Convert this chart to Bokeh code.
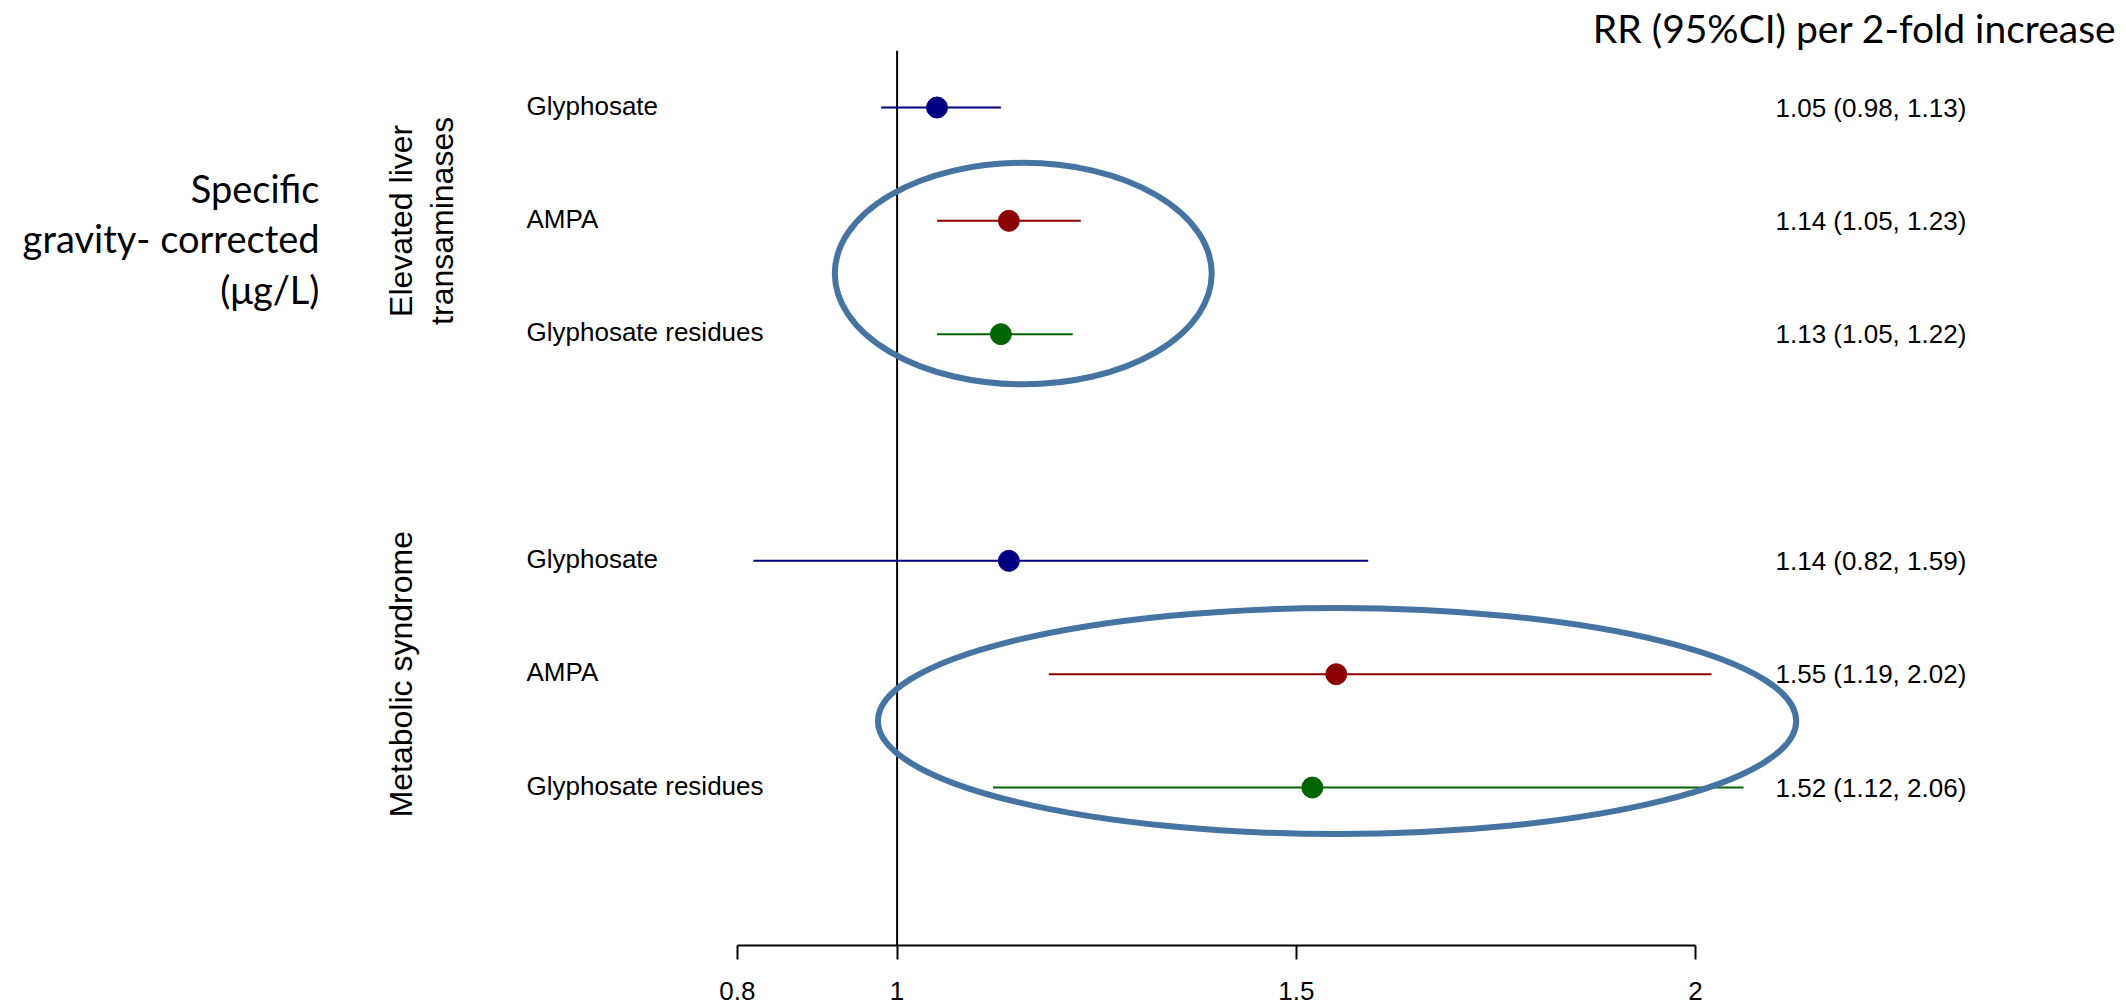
import math
from bokeh.plotting import figure
from bokeh.models import Range1d, FixedTicker
from bokeh.core.properties import value
from bokeh.embed import file_html
from bokeh.resources import INLINE

# ---------------- data ----------------
outcomes = ["Elevated liver transaminases", "Metabolic syndrome"]
outcome_lines = [["Elevated liver", "transaminases"], ["Metabolic syndrome"]]
exposures = ["Glyphosate", "AMPA", "Glyphosate residues"]
exposure_colors = ["#000080", "#8B0000", "#006400"]

rr_liver = [1.05, 1.14, 1.13]
lo_liver = [0.98, 1.05, 1.05]
hi_liver = [1.13, 1.23, 1.22]

rr_mets = [1.14, 1.55, 1.52]
lo_mets = [0.82, 1.19, 1.12]
hi_mets = [1.59, 2.02, 2.06]

tick_values = [0.8, 1, 1.5, 2]
tick_labels = ["0.8", "1", "1.5", "2"]

title_text = "RR (95%CI) per 2-fold increase"
side_title_lines = ["Specific", "gravity- corrected", "(μg/L)"]
null_value = 1

# highlighted results (ellipse annotations, in RR / row units)
highlight_x = [1.158, 1.551]
highlight_w = [0.472, 1.150]
highlight_y = [5.535, 1.587]
highlight_h = [1.954, 1.994]

# ---------------- layout constants ----------------
W, H = 2126, 1005
KX = 798.5           # px per RR unit
X1_PX = 896.6        # px of RR = 1
KY = 113.34          # px per row
TOP_ROW_PX = 107     # px of top row (y = 7)
BOTTOM_BORDER = 60
FRAME_BOTTOM = H - BOTTOM_BORDER

x_start = 1 - X1_PX / KX
x_end = x_start + W / KX
y_top = 7 + TOP_ROW_PX / KY
y_bot = y_top - FRAME_BOTTOM / KY


def fx(px):  # page px -> RR coordinate
    return 1 + (px - X1_PX) / KX


def fy(py):  # page px -> row coordinate
    return y_top - py / KY


# rows
groups = [(rr_liver, lo_liver, hi_liver), (rr_mets, lo_mets, hi_mets)]
row_y, row_rr, row_lo, row_hi, row_name, row_col, row_txt = [], [], [], [], [], [], []
group_center = []
for g, (rr, lo, hi) in enumerate(groups):
    for i in range(len(exposures)):
        y = 7 - 4 * g - i
        row_y.append(y)
        row_rr.append(rr[i])
        row_lo.append(lo[i])
        row_hi.append(hi[i])
        row_name.append(exposures[i])
        row_col.append(exposure_colors[i])
        row_txt.append(f"{rr[i]:.2f} ({lo[i]:.2f}, {hi[i]:.2f})")
    group_center.append(7 - 4 * g - 1)

p = figure(width=W, height=H, output_backend="svg", toolbar_location=None,
           x_range=Range1d(x_start, x_end), y_range=Range1d(y_bot, y_top),
           x_axis_location="below", y_axis_location=None,
           min_border_left=0, min_border_right=0, min_border_top=0,
           min_border_bottom=BOTTOM_BORDER,
           outline_line_color=None, background_fill_color="white", border_fill_color="white")
p.grid.visible = False

# null line
p.segment(x0=[null_value], y0=[7.5], x1=[null_value], y1=[y_bot], line_color="black", line_width=2)

# CIs and points
p.segment(x0=row_lo, y0=row_y, x1=row_hi, y1=row_y, line_color=row_col, line_width=2)
p.scatter(x=row_rr, y=row_y, marker="circle", size=21, fill_color=row_col, line_color=row_col)

# highlight ellipses
p.ellipse(x=highlight_x, y=highlight_y, width=highlight_w, height=highlight_h,
          fill_color=None, line_color="#4674A2", line_width=6)

arial = value("Liberation Sans")
calib = value("Lato")

# exposure names
p.text(x=[fx(526)] * len(row_y), y=row_y, text=row_name, text_font=arial, text_font_size="26px",
       text_align="left", text_baseline="middle", text_color="black", y_offset=-2)

# values
p.text(x=[fx(1775)] * len(row_y), y=row_y, text=row_txt, text_font=arial, text_font_size="26px",
       text_align="left", text_baseline="middle", text_color="black")

# outcome labels (rotated)
ox, oy, ot = [], [], []
for g, lines in enumerate(outcome_lines):
    for j, line in enumerate(lines):
        ox.append(fx(400 + 41 * j))
        oy.append(group_center[g])
        ot.append(line)
p.text(x=ox, y=oy, text=ot, angle=math.pi / 2, text_font=arial, text_font_size="32px",
       text_align="center", text_baseline="middle", text_color="black")

# title on right
p.text(x=[fx(2116)], y=[fy(27)], text=[title_text], text_font=calib, text_font_size="39px",
       text_align="right", text_baseline="middle", text_color="black")

# side title on left
side_centers = [187, 237, 288]
p.text(x=[fx(319)] * 3, y=[fy(c) for c in side_centers], text=side_title_lines, text_font=calib,
       text_font_size="38px", text_align="right", text_baseline="middle", text_color="black")

# axis
ax = p.xaxis[0]
ax.ticker = FixedTicker(ticks=tick_values)
ax.bounds = (min(tick_values), max(tick_values))
ax.major_label_overrides = {v: l for v, l in zip(tick_values, tick_labels)}
ax.axis_line_width = 2
ax.axis_line_color = "black"
ax.major_tick_line_width = 2
ax.major_tick_line_color = "black"
ax.major_tick_out = 14
ax.major_tick_in = 0
ax.minor_tick_line_color = None
ax.major_label_text_font = "Liberation Sans"
ax.major_label_text_font_size = "26px"
ax.major_label_text_color = "black"
ax.major_label_standoff = 22

open("out.html", "w").write(file_html(p, INLINE))
